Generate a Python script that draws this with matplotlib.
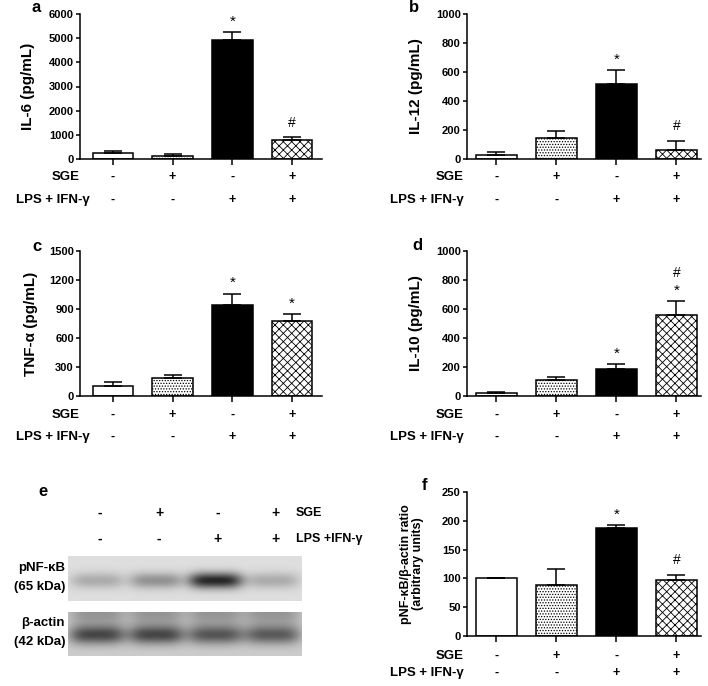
import numpy as np
import matplotlib
matplotlib.use("Agg")
import matplotlib.pyplot as plt
from matplotlib.transforms import blended_transform_factory, offset_copy

plt.rcParams['font.family'] = ['Liberation Sans', 'DejaVu Sans']
plt.rcParams['font.weight'] = 'bold'
plt.rcParams['hatch.linewidth'] = 0.6

W, H = 708, 686

# ---------------- data ----------------
sge_signs = ['-', '+', '-', '+']
lps_signs = ['-', '-', '+', '+']

il6_mean = [240, 120, 4920, 780]
il6_err = [110, 70, 320, 130]
il6_marks = ['', '', '*', '#']

il12_mean = [25, 145, 515, 62]
il12_err = [22, 45, 100, 65]
il12_marks = ['', '', '*', '#']

tnf_mean = [100, 185, 945, 775]
tnf_err = [42, 30, 115, 72]
tnf_marks = ['', '', '*', '*']

il10_mean = [20, 110, 186, 562]
il10_err = [10, 22, 32, 90]
il10_marks = ['', '', '*', '*#']

ratio_mean = [100, 88, 188, 98]
ratio_err = [0, 29, 5, 8]
ratio_marks = ['', '', '*', '#']

# western blot band strengths (0 = none, 1 = very dark), one per lane
pnfkb_band = [0.20, 0.30, 0.72, 0.20]
actin_band = [0.50, 0.50, 0.44, 0.42]

bar_faces = ['white', 'white', 'black', 'white']
bar_hatches = [None, '......', None, 'xxxx']

fig = plt.figure(figsize=(W / 100, H / 100), dpi=100)


def add_ax(left, top, right, bottom):
    return fig.add_axes([left / W, 1 - bottom / H, (right - left) / W, (bottom - top) / H])


def fx(x):
    return x / W


def fy(y):
    return 1 - y / H


def bar_panel(box, means, errs, marks, ymax, ystep, ylabel, ylabel_x, letter, letter_xy,
              xlim, rows_y, row_label_x, ylabel_size=11):
    left, top, right, bottom = box
    ax = add_ax(left, top, right, bottom)
    x = np.arange(len(means))
    for i in range(len(means)):
        ax.bar(x[i], means[i], width=0.68, color=bar_faces[i], edgecolor='black',
               linewidth=1.1, hatch=bar_hatches[i], zorder=2)
    ax.errorbar(x, means, yerr=[np.zeros(len(means)), errs], fmt='none', ecolor='black',
                elinewidth=1.1, capsize=6.5, capthick=1.1, zorder=3)
    ax.set_xlim(*xlim)
    ax.set_ylim(0, ymax)
    ax.set_yticks(np.arange(0, ymax + 1, ystep))
    ax.set_xticks(x)
    ax.set_xticklabels([])
    ax.tick_params(axis='y', labelsize=8, length=3, width=1.1, pad=1.5)
    ax.tick_params(axis='x', length=4, width=1.1)
    for t in ax.get_yticklabels():
        t.set_fontweight('bold')
    for s in ['top', 'right']:
        ax.spines[s].set_visible(False)
    for s in ['left', 'bottom']:
        ax.spines[s].set_linewidth(1.1)
    # significance marks
    for i, m in enumerate(marks):
        ytop = means[i] + errs[i]
        for j, ch in enumerate(m):
            base = 6.5 if ch == '*' else 10.5
            if len(m) > 1 and j == 1:
                base = 24
            tr = offset_copy(ax.transData, fig=fig, x=0, y=base * 0.72, units='points')
            ax.text(x[i], ytop, ch, transform=tr, ha='center', va='baseline',
                    fontsize=11 if ch == '*' else 10, fontweight='normal')
    # y label
    fig.text(fx(ylabel_x), fy((top + bottom) / 2), ylabel, rotation=90, ha='center',
             va='center', fontsize=ylabel_size, fontweight='bold', linespacing=0.95)
    fig.text(fx(letter_xy[0]), fy(letter_xy[1]), letter, ha='center', va='center',
             fontsize=12, fontweight='bold')
    # sign rows
    tr = blended_transform_factory(ax.transData, fig.transFigure)
    for i in range(len(means)):
        ax.text(x[i], fy(rows_y[0]), sge_signs[i], transform=tr, ha='center', va='center',
                fontsize=9, fontweight='bold', clip_on=False)
        ax.text(x[i], fy(rows_y[1]), lps_signs[i], transform=tr, ha='center', va='center',
                fontsize=9, fontweight='bold', clip_on=False)
    fig.text(fx(row_label_x[0]), fy(rows_y[0]), 'SGE', ha='right', va='center',
             fontsize=9.5, fontweight='bold')
    fig.text(fx(row_label_x[1]), fy(rows_y[1]), 'LPS + IFN-\u03b3', ha='right', va='center',
             fontsize=9.5, fontweight='bold')
    return ax


xl_left = (-0.55, 3.5)
xl_right = (-0.49, 3.41)

bar_panel((80, 14, 322, 159), il6_mean, il6_err, il6_marks, 6000, 1000,
          'IL-6 (pg/mL)', 28, 'a', (36, 8), xl_left, (177, 200), (80, 90))
bar_panel((467, 14, 701, 159), il12_mean, il12_err, il12_marks, 1000, 200,
          'IL-12 (pg/mL)', 416, 'b', (414, 7), xl_right, (177, 200), (464, 464))
bar_panel((80, 251, 322, 396), tnf_mean, tnf_err, tnf_marks, 1500, 300,
          'TNF-\u03b1 (pg/mL)', 31, 'c', (37, 247), xl_left, (415, 437), (80, 90))
bar_panel((467, 251, 701, 396), il10_mean, il10_err, il10_marks, 1000, 200,
          'IL-10 (pg/mL)', 416, 'd', (417, 245), xl_right, (415, 437), (464, 464))
bar_panel((467, 492, 701, 636), ratio_mean, ratio_err, ratio_marks, 250, 50,
          'pNF-\u03baB/\u03b2-actin ratio\n(arbitrary units)', 412, 'f', (424, 485), xl_right,
          (656, 673), (464, 464), ylabel_size=9)

# ---------------- western blot (panel e) ----------------
lane_x = np.array([97, 156, 215, 272])
bl, br = 68, 302


def blot_image(top, bottom, bands, bg, band_y, band_h, lane_w, top_shade=0.0):
    ny, nx = int(bottom - top), int(br - bl)
    yy, xx = np.mgrid[0:ny, 0:nx]
    xx = xx + bl
    yy = yy + top
    img = np.full((ny, nx), bg, dtype=float)
    for cx, a in zip(lane_x, bands):
        prof_x = np.exp(-np.abs((xx - cx) / lane_w) ** 4)
        prof_y = np.exp(-((yy - band_y) / band_h) ** 2)
        img -= a * prof_x * prof_y
        if top_shade:
            img -= top_shade * prof_x * np.exp(-((yy - top) / 16.0) ** 2)
    return np.clip(img, 0, 1)


ax1 = add_ax(bl, 556, br, 601)
ax1.imshow(blot_image(556, 601, pnfkb_band, 0.87, 580, 8.0, 27), cmap='gray', vmin=0, vmax=1,
           aspect='auto', interpolation='bilinear')
ax1.axis('off')
ax2 = add_ax(bl, 612, br, 656)
ax2.imshow(blot_image(612, 656, actin_band, 0.80, 635, 9.0, 28, top_shade=0.22), cmap='gray',
           vmin=0, vmax=1, aspect='auto', interpolation='bilinear')
ax2.axis('off')

fig.text(fx(43), fy(492), 'e', ha='center', va='center', fontsize=12, fontweight='bold')
for i, cx in enumerate(lane_x):
    fig.text(fx(cx + 3), fy(513), sge_signs[i], ha='center', va='center', fontsize=10,
             fontweight='bold')
    fig.text(fx(cx + 3), fy(539), lps_signs[i], ha='center', va='center', fontsize=10,
             fontweight='bold')
fig.text(fx(296), fy(513), 'SGE', ha='left', va='center', fontsize=9, fontweight='bold')
fig.text(fx(296), fy(539), 'LPS +IFN-\u03b3', ha='left', va='center', fontsize=9,
         fontweight='bold')
fig.text(fx(65), fy(568), 'pNF-\u03baB', ha='right', va='center', fontsize=9.5, fontweight='bold')
fig.text(fx(65), fy(587), '(65 kDa)', ha='right', va='center', fontsize=9.5, fontweight='bold')
fig.text(fx(65), fy(623), '\u03b2-actin', ha='right', va='center', fontsize=9.5, fontweight='bold')
fig.text(fx(65), fy(642), '(42 kDa)', ha='right', va='center', fontsize=9.5, fontweight='bold')

fig.savefig('out.png', dpi=100)
